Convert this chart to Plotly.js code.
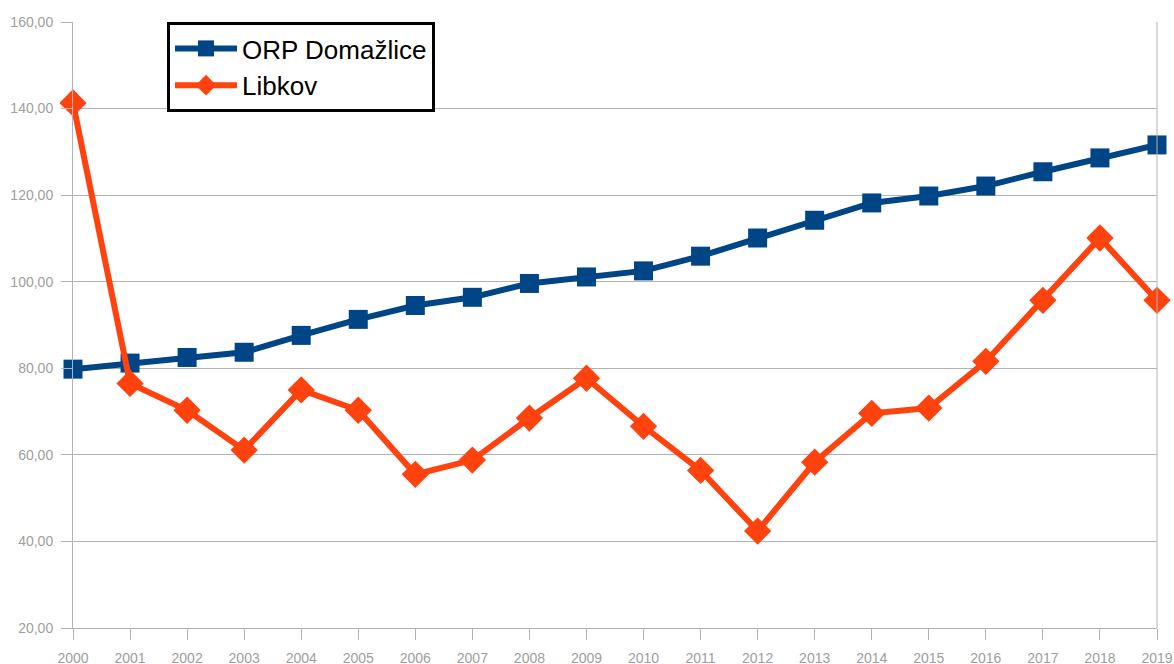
<!DOCTYPE html>
<html><head><meta charset="utf-8">
<script src="https://cdn.plot.ly/plotly-3.0.1.min.js"></script>
<style>body{margin:0;padding:0;background:#fff}#c{width:1174px;height:664px}</style>
</head><body><div id="c"></div>
<script>
const years = [2000,2001,2002,2003,2004,2005,2006,2007,2008,2009,2010,2011,2012,2013,2014,2015,2016,2017,2018,2019];
const orpName = "ORP Domažlice";
const orpValues = [79.8,81.2,82.5,83.7,87.6,91.3,94.5,96.4,99.6,101.1,102.5,105.9,110.1,114.2,118.2,119.8,122.1,125.4,128.6,131.6];
const libName = "Libkov";
const libValues = [141.3,76.5,70.3,61.1,75.0,70.3,55.5,58.8,68.5,77.7,66.6,56.4,42.4,58.3,69.6,70.8,81.6,95.7,110.1,95.7];
const yTicks = [20,40,60,80,100,120,140,160];

const traces = [
  {x: years, y: orpValues, name: orpName, type: 'scatter', mode: 'lines+markers', cliponaxis: false,
   line: {color: '#004586', width: 6}, marker: {symbol: 'square', size: 19, color: '#004586'}},
  {x: years, y: libValues, name: libName, type: 'scatter', mode: 'lines+markers', cliponaxis: false,
   line: {color: '#ff420e', width: 6}, marker: {symbol: 'diamond', size: 21, color: '#ff420e'}}
];
const layout = {
  width: 1174, height: 664,
  margin: {l: 73, r: 17, t: 22, b: 36},
  paper_bgcolor: '#fff', plot_bgcolor: '#fff',
  separators: ',.',
  font: {family: 'Liberation Sans, Arial, sans-serif'},
  showlegend: true,
  legend: {x: (167-73)/1084, y: 1, xanchor: 'left', yanchor: 'top',
    bordercolor: '#000', borderwidth: 3, bgcolor: '#fff',
    font: {size: 26, color: '#000', family: 'Liberation Sans, Arial, sans-serif'},
    itemwidth: 62, tracegroupgap: 0},
  xaxis: {range: [2000, 2019], tickmode: 'array', tickvals: years, ticktext: years.map(String),
    showgrid: false, zeroline: false, showline: true, linecolor: '#b3b3b3', linewidth: 1,
    ticks: 'outside', ticklen: 11, tickcolor: '#b3b3b3', ticklabelstandoff: 6,
    tickfont: {size: 14, color: '#9e9e9e'}},
  yaxis: {range: [20, 160], tickmode: 'array', tickvals: yTicks, tickformat: '.2f',
    showgrid: true, gridcolor: '#b3b3b3', gridwidth: 1, zeroline: false,
    showline: true, linecolor: '#b3b3b3', linewidth: 1,
    ticks: 'outside', ticklen: 11, tickcolor: '#b3b3b3', ticklabelstandoff: 5,
    tickfont: {size: 14, color: '#9e9e9e'}},
  shapes: [{type: 'line', xref: 'paper', yref: 'paper', x0: 1, x1: 1, y0: 0, y1: 1,
    line: {color: '#b3b3b3', width: 1}}]
};
Plotly.newPlot('c', traces, layout, {displayModeBar: false, staticPlot: true});
</script></body></html>
